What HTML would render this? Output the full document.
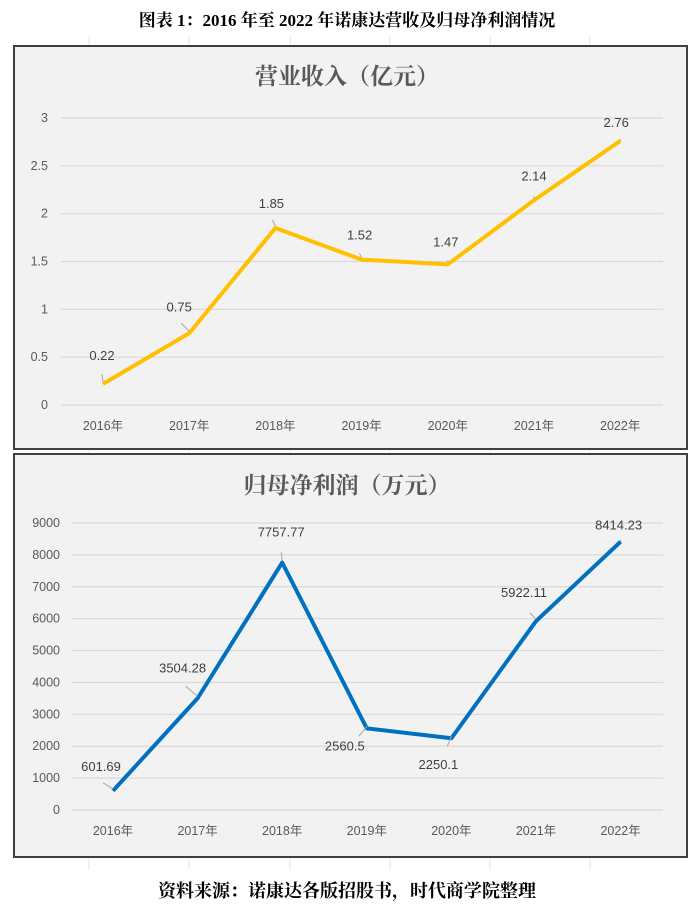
<!DOCTYPE html>
<html><head><meta charset="utf-8">
<style>
body{margin:0;background:#fff;width:694px;height:908px;overflow:hidden;font-family:"Liberation Sans","Noto Sans CJK SC",sans-serif}
svg{display:block}
</style></head>
<body>
<svg width="694" height="908">
<g id="bg" stroke="#e6e6e6" stroke-width="1"></g>
<text x="347" y="26" text-anchor="middle" font-family="'Liberation Serif','Noto Serif CJK SC',serif" font-weight="bold" font-size="17" fill="#000">图表 1：2016 年至 2022 年诺康达营收及归母净利润情况</text>
<g id="c1"></g>
<g id="c2"></g>
<text x="347" y="897" text-anchor="middle" font-family="'Liberation Serif','Noto Serif CJK SC',serif" font-weight="bold" font-size="18" fill="#000">资料来源：诺康达各版招股书，时代商学院整理</text>
</svg>
<script>
const categories=["2016年","2017年","2018年","2019年","2020年","2021年","2022年"];
const revenue=[0.22,0.75,1.85,1.52,1.47,2.14,2.76];
const revenueLabels=["0.22","0.75","1.85","1.52","1.47","2.14","2.76"];
const revenueTicks=[0,0.5,1,1.5,2,2.5,3];
const profit=[601.69,3504.28,7757.77,2560.5,2250.1,5922.11,8414.23];
const profitLabels=["601.69","3504.28","7757.77","2560.5","2250.1","5922.11","8414.23"];
const profitTicks=[0,1000,2000,3000,4000,5000,6000,7000,8000,9000];
const NS="http://www.w3.org/2000/svg";
function mk(p,t,a){const e=document.createElementNS(NS,t);for(const k in a)e.setAttribute(k,a[k]);p.appendChild(e);return e;}
const bg=document.getElementById('bg');
[89,189,290,390,490,590].forEach(x=>{const l=mk(bg,'line',{x1:x,y1:36,x2:x,y2:870});});
function chart(g,cfg){
  const r=mk(g,'rect',{x:cfg.box[0],y:cfg.box[1],width:cfg.box[2],height:cfg.box[3],fill:'#f2f2f2',stroke:'#404040','stroke-width':2});
  
  const t=mk(g,'text',{x:347,y:cfg.titleY,'text-anchor':'middle','font-size':23,'font-weight':'bold',fill:'#595959','font-family':"'Liberation Serif','Noto Serif CJK SC',serif"});
  t.textContent=cfg.title;
  const max=cfg.ticks[cfg.ticks.length-1];
  const y=v=>cfg.y0-(v/max)*(cfg.y0-cfg.yTop);
  const x=i=>cfg.x0+i*cfg.dx;
  cfg.ticks.forEach(v=>{
    const l=mk(g,'line',{x1:cfg.gx,x2:663,y1:y(v),y2:y(v),stroke:'#d9d9d9','stroke-width':1.2});
    
    const tt=mk(g,'text',{x:cfg.tx,y:y(v)+4,'text-anchor':'end','font-size':12.5,fill:'#595959'});
    tt.textContent=String(v);
  });
  categories.forEach((c,i)=>{
    const tt=mk(g,'text',{x:x(i),y:cfg.y0+25,'text-anchor':'middle','font-size':12.5,fill:'#595959'});
    tt.textContent=c;
  });
  const pts=cfg.data.map((v,i)=>x(i)+','+y(v)).join(' ');
  const pl=mk(g,'polyline',{points:pts,fill:'none',stroke:cfg.color,'stroke-width':4,'stroke-linejoin':'round'});
  
  cfg.data.forEach((v,i)=>{
    const px=x(i),py=y(v);const o=cfg.off[i];
    const ll=mk(g,'line',{x1:px,y1:py-2,x2:px+o[2],y2:py+o[3],stroke:'#a6a6a6','stroke-width':1});
    
    const tt=mk(g,'text',{x:px+o[0],y:py+o[1],'text-anchor':'middle','font-size':13,fill:'#404040'});
    tt.textContent=cfg.labels[i];
  });
}
chart(document.getElementById('c1'),{box:[14,46,673,403],title:'营业收入（亿元）',titleY:84,ticks:revenueTicks,data:revenue,labels:revenueLabels,color:'#ffc000',x0:103,dx:86.2,y0:405,yTop:118,gx:61,tx:48,
 off:[[-1,-24,-1,-10],[-10,-22,-8,-10],[-4,-20,-3,-8],[-2,-20,-2,-6],[-2,-18,0,-4],[0,-20,0,-4],[-4,-14,0,0]]});
chart(document.getElementById('c2'),{box:[14,454,673,403],title:'归母净利润（万元）',titleY:493,ticks:profitTicks,data:profit,labels:profitLabels,color:'#0070c0',x0:113,dx:84.6,y0:810,yTop:523,gx:72,tx:60,
 off:[[-12,-20,-10,-8],[-15,-26,-12,-12],[-1,-26,-1,-10],[-22,22,-8,8],[-13,31,-4,8],[-12,-24,-6,-8],[-2,-12,0,0]]});
</script>
</body></html>
